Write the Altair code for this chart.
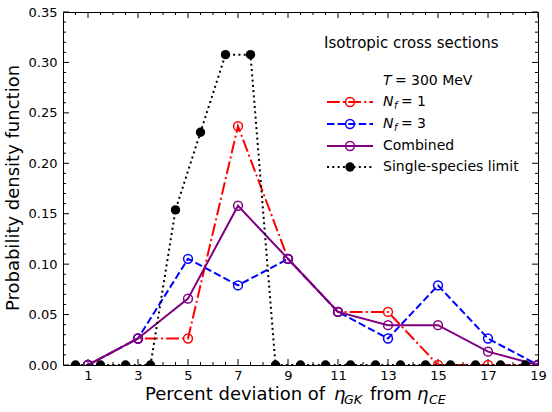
import altair as alt
import pandas as pd

# Histogram bins (percent deviation) and densities per species set
bins = [1, 3, 5, 7, 9, 11, 13, 15, 17, 19]
nf1 = [0.0, 0.0263, 0.0263, 0.2368, 0.1053, 0.0526, 0.0526, 0.0, 0.0, 0.0]
nf3 = [0.0, 0.0263, 0.1053, 0.0789, 0.1053, 0.0526, 0.0263, 0.0789, 0.0263, 0.0]
combined = [0.0, 0.0263, 0.0658, 0.1579, 0.1053, 0.0526, 0.0395, 0.0395, 0.0132, 0.0]

# Single-species limit on half-integer bins
single_x = [0.5, 1.5, 2.5, 3.5, 4.5, 5.5, 6.5, 7.5, 8.5, 9.5,
            10.5, 11.5, 12.5, 13.5, 14.5, 15.5, 16.5, 17.5, 18.5]
single = [0.0, 0.0, 0.0, 0.0, 0.1538, 0.2308, 0.3077, 0.3077, 0.0, 0.0,
          0.0, 0.0, 0.0, 0.0, 0.0, 0.0, 0.0, 0.0, 0.0]

# Axis ticks
x_major = [1, 3, 5, 7, 9, 11, 13, 15, 17, 19]
x_minor = [i / 2 for i in range(1, 38) if (i / 2) not in x_major]
y_major = [0.0, 0.05, 0.10, 0.15, 0.20, 0.25, 0.30, 0.35]
y_minor = [i / 100 for i in range(1, 35) if i % 5 != 0]

FONT = "DejaVu Sans"
W, H = 475, 353
RED, BLUE, PURPLE, BLACK = "#ff0000", "#0000ff", "#800080", "#000000"

xs = alt.Scale(domain=[0, 19], nice=False, zero=False)
ys = alt.Scale(domain=[0, 0.35], nice=False, zero=False)

x_axis = alt.Axis(values=x_major, format="d", ticks=False, tickSize=0, domain=False,
                  grid=False, labelFontSize=13, labelFont=FONT, labelColor="black",
                  labelPadding=4, labelFlush=False, labelOverlap=False, title=None)
y_axis = alt.Axis(values=y_major, format=".2f", ticks=False, tickSize=0, domain=False,
                  grid=False, labelFontSize=13, labelFont=FONT, labelColor="black",
                  labelPadding=6, labelFlush=False, labelOverlap=False, title=None)


def xq(field):
    return alt.X(f"{field}:Q", scale=xs, axis=x_axis)


def yq(field):
    return alt.Y(f"{field}:Q", scale=ys, axis=y_axis)


def series(xv, yv, color, dash, filled, size):
    df = pd.DataFrame({"x": xv, "y": yv})
    base = alt.Chart(df)
    line_kw = dict(color=color, strokeWidth=2, clip=True)
    if dash:
        line_kw["strokeDash"] = dash
    line = base.mark_line(**line_kw).encode(x=xq("x"), y=yq("y"))
    pts = base.mark_point(shape="circle", size=size, filled=filled, color=color,
                          strokeWidth=1.5, opacity=1, clip=True).encode(x=xq("x"), y=yq("y"))
    return [line, pts]


def one():
    return alt.Chart(pd.DataFrame({"k": [0]}))


def text(t, x, y, size, style="normal", baseline="middle", angle=None, align="left"):
    kw = dict(text=t, font=FONT, fontSize=size, fontStyle=style, baseline=baseline,
              align=align, color="black")
    if angle is not None:
        kw["angle"] = angle
    return one().mark_text(**kw).encode(x=alt.value(x), y=alt.value(y))


# Inward tick marks on all four sides
def xticks(vals, length):
    df = pd.DataFrame({"v": vals})
    bottom = alt.Chart(df).mark_rule(color="black", strokeWidth=1).encode(
        x=xq("v"), y=alt.value(H), y2=alt.value(H - length))
    top = alt.Chart(df).mark_rule(color="black", strokeWidth=1).encode(
        x=xq("v"), y=alt.value(0), y2=alt.value(length))
    return [bottom, top]


def yticks(vals, length):
    df = pd.DataFrame({"v": vals})
    left = alt.Chart(df).mark_rule(color="black", strokeWidth=1).encode(
        y=yq("v"), x=alt.value(0), x2=alt.value(length))
    right = alt.Chart(df).mark_rule(color="black", strokeWidth=1).encode(
        y=yq("v"), x=alt.value(W), x2=alt.value(W - length))
    return [left, right]


layers = []
layers += xticks(x_major, 6) + xticks(x_minor, 3)
layers += yticks(y_major, 6) + yticks(y_minor, 3)

DASHDOT = [12.8, 3.2, 2, 3.2]
DASHED = [7.4, 3.2]
DOTTED = [2, 3.3]

layers += series(bins, nf1, RED, DASHDOT, False, 78)
layers += series(bins, nf3, BLUE, DASHED, False, 78)
layers += series(bins, combined, PURPLE, None, False, 78)
layers += series(single_x, single, BLACK, DOTTED, True, 88)

# Legend
layers.append(text("Isotropic cross sections", 261, 31, 15))
layers.append(text("T", 320, 69, 14, style="italic"))
layers.append(text("=", 332, 69, 14))
layers.append(text("300 MeV", 348, 69, 14))

entries = [
    (90, RED, DASHDOT, False, 78),
    (112, BLUE, DASHED, False, 78),
    (134, PURPLE, None, False, 78),
    (155, BLACK, DOTTED, True, 88),
]
for yy, color, dash, filled, size in entries:
    rule_kw = dict(color=color, strokeWidth=2)
    if dash:
        rule_kw["strokeDash"] = dash
    layers.append(one().mark_rule(**rule_kw).encode(
        x=alt.value(264), x2=alt.value(310), y=alt.value(yy)))
    layers.append(one().mark_point(shape="circle", size=size, filled=filled, color=color,
                                   strokeWidth=1.5, opacity=1).encode(
        x=alt.value(287), y=alt.value(yy)))

for yy, n in [(90, "1"), (112, "3")]:
    layers.append(text("N", 320, yy, 14, style="italic"))
    layers.append(text("f", 331, yy + 4, 10, style="italic"))
    layers.append(text("=", 338, yy, 14))
    layers.append(text(n, 354, yy, 14))
layers.append(text("Combined", 320, 134, 14))
layers.append(text("Single-species limit", 320, 155, 14))

# Axis titles
layers.append(text("Probability density function", -44, 176, 18,
                   baseline="alphabetic", angle=270, align="center"))
layers.append(text("Percent deviation of", 82, 388, 18, baseline="alphabetic"))
layers.append(text("\u03b7", 271, 388, 18, style="italic", baseline="alphabetic"))
layers.append(text("GK", 281, 392, 12.6, style="italic", baseline="alphabetic"))
layers.append(text("from", 307, 388, 18, baseline="alphabetic"))
layers.append(text("\u03b7", 354, 388, 18, style="italic", baseline="alphabetic"))
layers.append(text("CE", 366, 392, 12.6, style="italic", baseline="alphabetic"))

chart = alt.layer(*layers).properties(
    width=W, height=H,
    padding={"left": 63, "top": 12, "right": 14, "bottom": 47},
    autosize=alt.AutoSizeParams(type="none"),
    background="white",
).configure_view(stroke="black", strokeWidth=1)

chart.save("out.html", embed_options={"renderer": "svg", "actions": False})
